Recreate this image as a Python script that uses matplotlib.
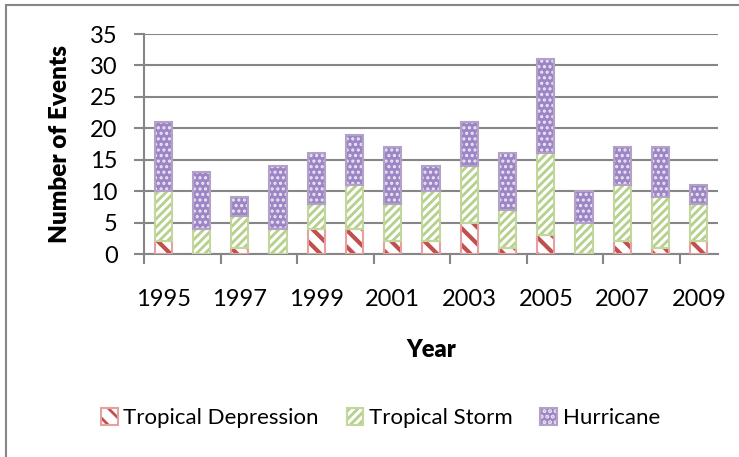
import numpy as np
import matplotlib
matplotlib.use("Agg")
import matplotlib.pyplot as plt
from matplotlib.patches import Patch, Rectangle

years = list(range(1995, 2010))
depression = [2, 0, 1, 0, 4, 4, 2, 2, 5, 1, 3, 0, 2, 1, 2]
storm = [8, 4, 5, 4, 4, 7, 6, 8, 9, 6, 13, 5, 9, 8, 6]
hurricane = [11, 9, 3, 10, 8, 8, 9, 4, 7, 9, 15, 5, 6, 8, 3]

plt.rcParams['font.family'] = ['Lato', 'DejaVu Sans']
plt.rcParams['hatch.linewidth'] = 2.0

GRID = '#868686'
styles = [
    # name, values, face, hatch colour, hatch, border, hatch width
    ('Tropical Depression', depression, 'white', '#c0504d', '\\\\', '#e6a0a0', 3.0),
    ('Tropical Storm', storm, 'white', '#b5d08a', '////', '#c3d69b', 2.0),
    ('Hurricane', hurricane, '#9c85c4', '#ece6f5', '...', '#b3a2c7', 1.5),
]

fig = plt.figure(figsize=(7.39, 4.57), dpi=100)
# chart border (only the left and top edges fall inside the image)
fig.patches.append(Rectangle((0.008, -0.1), 1.2, 1.089, transform=fig.transFigure,
                             fill=False, edgecolor=GRID, linewidth=1.5))

ax = fig.add_axes([0.1949, 0.4442, 0.7767, 0.4814])
x = np.arange(len(years))
width = 0.45
bottom = np.zeros(len(years))
handles = []


def set_hw(patches, hw):
    for p in patches:
        if hasattr(p, 'set_hatch_linewidth'):
            p.set_hatch_linewidth(hw)


for name, vals, face, hcol, hatch, edge, hw in styles:
    vals = np.array(vals, dtype=float)
    bars = ax.bar(x, vals, width, bottom=bottom, color=face, edgecolor=hcol,
                  hatch=hatch, linewidth=0, zorder=3)
    set_hw(bars, hw)
    ax.bar(x, vals, width, bottom=bottom, fill=False, edgecolor=edge,
           linewidth=1.5, zorder=4)
    bottom += vals
    h_fill = Patch(facecolor=face, edgecolor=hcol, hatch=hatch, linewidth=0)
    set_hw([h_fill], hw)
    h_edge = Patch(fill=False, edgecolor=edge, linewidth=1.5)
    handles.append((h_fill, h_edge))

ax.set_xlim(-0.5, len(years) - 0.5)
ax.set_ylim(0, 35)
ax.set_yticks(range(0, 36, 5))
ax.yaxis.grid(True, color=GRID, linewidth=1.5, zorder=0)
ax.set_axisbelow(True)

ax.set_xticks(x[::2])
ax.set_xticklabels([str(y) for y in years[::2]])
ax.set_xticks(np.arange(-0.5, len(years) - 1, 2), minor=True)
ax.tick_params(axis='x', which='major', length=0, pad=25, labelsize=17)
ax.tick_params(axis='x', which='minor', length=7, width=1.5, color=GRID)
ax.tick_params(axis='y', length=7, width=1.5, color=GRID, pad=12, labelsize=17)

for s in ['top', 'right']:
    ax.spines[s].set_visible(False)
for s in ['left', 'bottom']:
    ax.spines[s].set_color(GRID)
    ax.spines[s].set_linewidth(1.5)

ax.set_ylabel('Number of Events', fontsize=17.5, fontweight='heavy', labelpad=14)
ax.set_xlabel('Year', fontsize=17, fontweight='heavy', labelpad=21)

fig.legend(handles, [s[0] for s in styles], loc='center', ncol=3,
           bbox_to_anchor=(0.515, 0.085), frameon=False, fontsize=16,
           handlelength=0.75, handleheight=0.75, handletextpad=0.25, columnspacing=1.25)

fig.savefig('out.png', dpi=100)
